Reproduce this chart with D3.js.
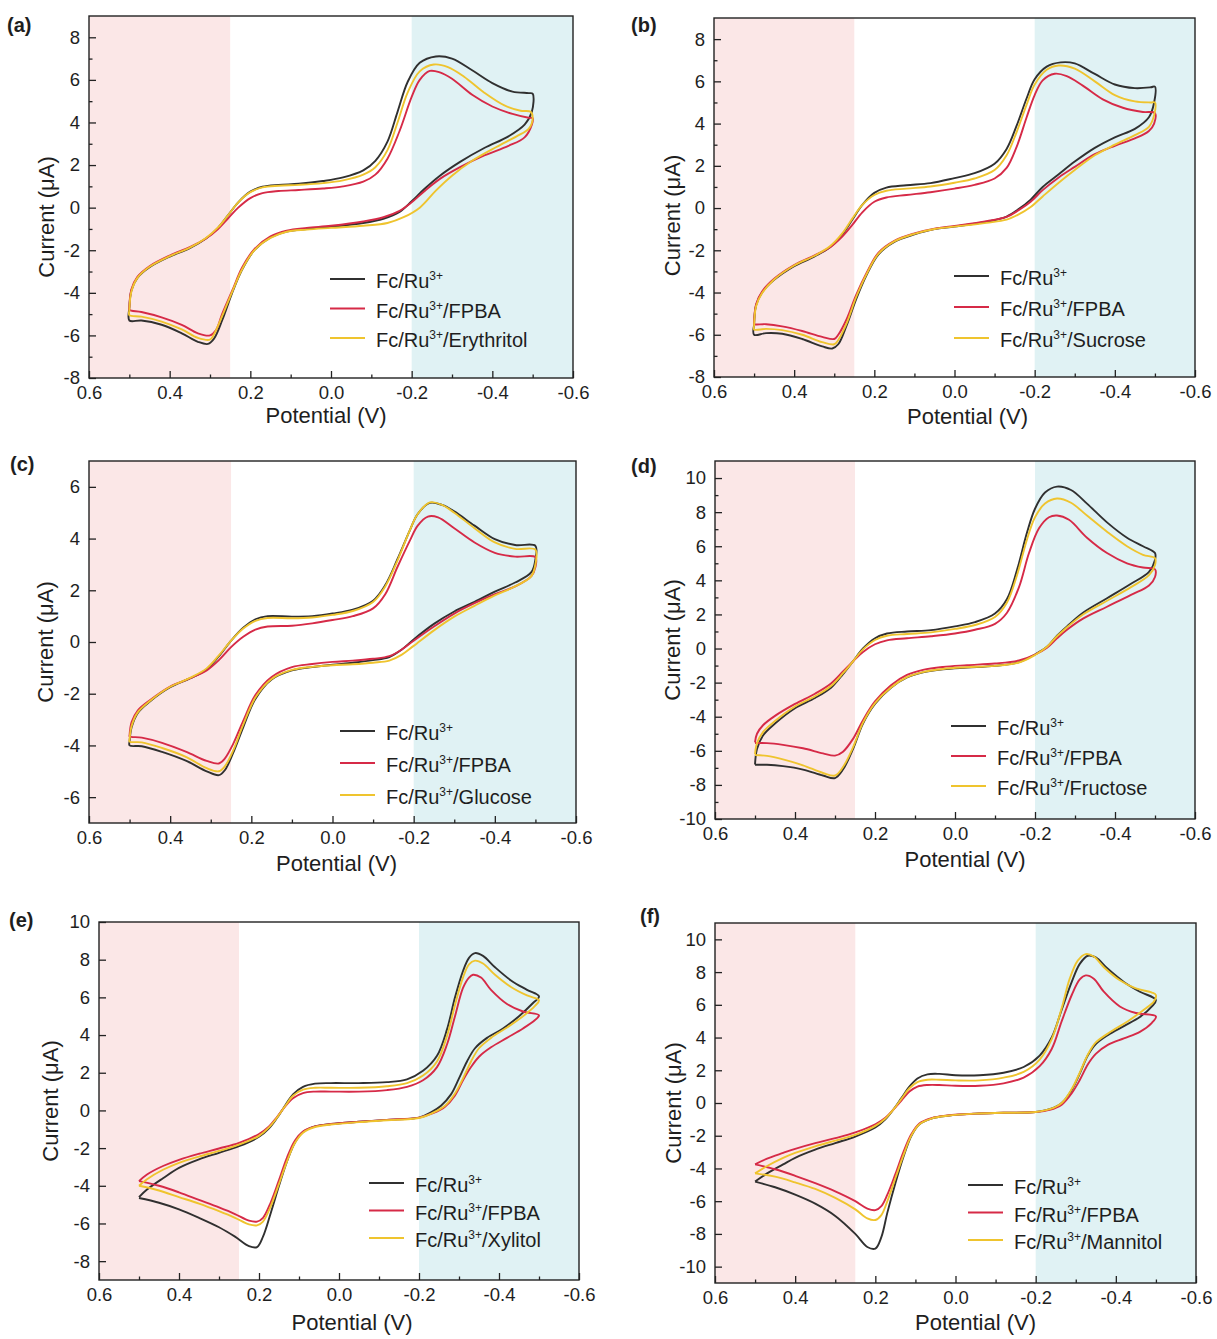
<!DOCTYPE html>
<html>
<head>
<meta charset="utf-8">
<script src="https://cdn.jsdelivr.net/npm/d3@7"></script>
<style>
  body { margin: 0; background: #fff; }
  text { font-family: "Liberation Sans", Arial, sans-serif; fill: #1e1e1e; }
</style>
</head>
<body>
<svg id="fig" width="1217" height="1339"></svg>
<script>
// ---- data: cyclic voltammograms [potential (V), current (uA)] ----
const potentialTicks = [0.6, 0.4, 0.2, 0.0, -0.2, -0.4, -0.6];
const seriesColors = ["#303030", "#d62a47", "#efc42e"];
const sugars = ["Erythritol", "Sucrose", "Glucose", "Fructose", "Xylitol", "Mannitol"];
const letters = ["(a)", "(b)", "(c)", "(d)", "(e)", "(f)"];
const pinkBand = [0.6, 0.25];
const cyanBand = [-0.2, -0.6];

const yTicksA = [-8, -6, -4, -2, 0, 2, 4, 6, 8];
const yTicksC = [-6, -4, -2, 0, 2, 4, 6];
const yTicksD = [-10, -8, -6, -4, -2, 0, 2, 4, 6, 8, 10];
const yTicksE = [-8, -6, -4, -2, 0, 2, 4, 6, 8, 10];

// (a) erythritol
const aBare = [[0.5,-4.75],[0.495,-3.9],[0.48,-3.3],[0.45,-2.8],[0.4,-2.3],[0.35,-1.9],[0.31,-1.45],[0.28,-0.95],[0.255,-0.35],[0.23,0.25],[0.2,0.75],[0.17,0.98],[0.13,1.07],[0.08,1.12],[0.02,1.25],[-0.03,1.42],[-0.08,1.75],[-0.11,2.2],[-0.14,3.1],[-0.165,4.5],[-0.19,5.9],[-0.22,6.8],[-0.26,7.1],[-0.3,7.0],[-0.35,6.45],[-0.4,5.85],[-0.45,5.45],[-0.49,5.38],[-0.5,5.35],
  [-0.498,4.5],[-0.48,3.9],[-0.44,3.35],[-0.38,2.8],[-0.32,2.15],[-0.27,1.5],[-0.23,0.85],[-0.2,0.3],[-0.17,-0.2],[-0.13,-0.52],[-0.08,-0.72],[0,-0.9],[0.06,-1.0],[0.11,-1.12],[0.15,-1.4],[0.19,-2.0],[0.22,-2.9],[0.245,-4.0],[0.27,-5.3],[0.29,-6.15],[0.305,-6.4],[0.33,-6.3],[0.37,-5.9],[0.42,-5.5],[0.47,-5.3],[0.5,-5.3],[0.5,-4.75]];
const aFpba = [[0.5,-4.7],[0.495,-3.85],[0.48,-3.25],[0.45,-2.75],[0.4,-2.25],[0.35,-1.85],[0.31,-1.45],[0.28,-1.0],[0.255,-0.5],[0.23,0.0],[0.2,0.45],[0.17,0.68],[0.13,0.78],[0.08,0.83],[0.02,0.9],[-0.03,1.0],[-0.08,1.22],[-0.11,1.55],[-0.14,2.3],[-0.17,3.6],[-0.2,5.2],[-0.22,6.0],[-0.245,6.42],[-0.27,6.35],[-0.3,6.05],[-0.35,5.3],[-0.4,4.75],[-0.45,4.4],[-0.49,4.22],[-0.5,4.2],
  [-0.498,3.9],[-0.48,3.3],[-0.44,2.9],[-0.38,2.45],[-0.32,1.9],[-0.27,1.35],[-0.23,0.75],[-0.2,0.25],[-0.17,-0.15],[-0.13,-0.45],[-0.08,-0.65],[0,-0.85],[0.06,-0.95],[0.11,-1.08],[0.15,-1.35],[0.19,-1.95],[0.22,-2.8],[0.245,-3.9],[0.27,-5.0],[0.285,-5.75],[0.3,-6.0],[0.33,-5.9],[0.37,-5.5],[0.42,-5.15],[0.47,-4.9],[0.5,-4.8],[0.5,-4.7]];
const aSugar = [[0.5,-4.85],[0.495,-3.95],[0.48,-3.3],[0.45,-2.78],[0.4,-2.28],[0.35,-1.88],[0.31,-1.43],[0.28,-0.93],[0.255,-0.35],[0.23,0.25],[0.2,0.73],[0.17,0.95],[0.13,1.03],[0.08,1.07],[0.02,1.15],[-0.03,1.28],[-0.08,1.55],[-0.11,1.9],[-0.14,2.7],[-0.165,4.0],[-0.19,5.4],[-0.22,6.4],[-0.255,6.72],[-0.29,6.6],[-0.33,6.15],[-0.38,5.4],[-0.43,4.8],[-0.47,4.55],[-0.495,4.5],
  [-0.5,4.2],[-0.49,3.7],[-0.46,3.35],[-0.41,2.85],[-0.35,2.2],[-0.3,1.5],[-0.26,0.8],[-0.22,0.0],[-0.18,-0.45],[-0.14,-0.72],[-0.08,-0.85],[0,-0.95],[0.06,-1.03],[0.11,-1.13],[0.15,-1.42],[0.19,-2.0],[0.22,-2.88],[0.245,-3.95],[0.27,-5.1],[0.29,-5.95],[0.3,-6.2],[0.33,-6.12],[0.37,-5.72],[0.42,-5.35],[0.47,-5.12],[0.5,-5.05],[0.5,-4.85]];

// (b) sucrose
const bBare = [[0.5,-5.55],[0.495,-4.6],[0.48,-4.0],[0.45,-3.4],[0.4,-2.75],[0.35,-2.3],[0.31,-1.85],[0.28,-1.25],[0.255,-0.55],[0.23,0.15],[0.2,0.72],[0.17,0.97],[0.12,1.08],[0.06,1.18],[0,1.42],[-0.05,1.65],[-0.1,2.1],[-0.13,2.8],[-0.155,3.9],[-0.18,5.2],[-0.2,6.1],[-0.23,6.7],[-0.265,6.9],[-0.3,6.85],[-0.35,6.35],[-0.4,5.85],[-0.45,5.68],[-0.49,5.72],[-0.5,5.75],
  [-0.498,5.0],[-0.485,4.3],[-0.45,3.75],[-0.4,3.35],[-0.35,2.85],[-0.3,2.2],[-0.26,1.6],[-0.22,1.0],[-0.19,0.4],[-0.16,-0.05],[-0.13,-0.4],[-0.08,-0.65],[0,-0.88],[0.05,-1.0],[0.1,-1.25],[0.15,-1.6],[0.19,-2.2],[0.22,-3.2],[0.245,-4.3],[0.27,-5.6],[0.29,-6.45],[0.305,-6.65],[0.33,-6.55],[0.38,-6.2],[0.43,-5.95],[0.47,-5.92],[0.5,-6.0],[0.5,-5.55]];
const bFpba = [[0.5,-5.45],[0.495,-4.55],[0.48,-3.95],[0.45,-3.35],[0.4,-2.7],[0.35,-2.25],[0.31,-1.85],[0.28,-1.35],[0.255,-0.8],[0.23,-0.2],[0.2,0.3],[0.17,0.5],[0.12,0.62],[0.06,0.75],[0,0.92],[-0.05,1.1],[-0.1,1.4],[-0.13,1.9],[-0.155,2.9],[-0.18,4.3],[-0.2,5.35],[-0.22,6.05],[-0.25,6.36],[-0.28,6.25],[-0.32,5.8],[-0.37,5.15],[-0.42,4.75],[-0.47,4.55],[-0.5,4.5],
  [-0.498,4.0],[-0.485,3.65],[-0.45,3.3],[-0.4,2.95],[-0.35,2.55],[-0.3,1.95],[-0.26,1.45],[-0.22,0.85],[-0.19,0.3],[-0.16,-0.1],[-0.13,-0.42],[-0.08,-0.62],[0,-0.85],[0.05,-0.98],[0.1,-1.2],[0.15,-1.55],[0.19,-2.12],[0.22,-3.1],[0.245,-4.1],[0.27,-5.3],[0.29,-6.0],[0.3,-6.2],[0.33,-6.1],[0.38,-5.82],[0.43,-5.6],[0.47,-5.5],[0.5,-5.5],[0.5,-5.45]];
const bSugar = [[0.5,-5.6],[0.495,-4.65],[0.48,-4.02],[0.45,-3.38],[0.4,-2.72],[0.35,-2.27],[0.31,-1.8],[0.28,-1.2],[0.255,-0.5],[0.23,0.15],[0.2,0.62],[0.17,0.82],[0.12,0.92],[0.06,1.02],[0,1.2],[-0.05,1.4],[-0.1,1.8],[-0.13,2.5],[-0.155,3.6],[-0.18,4.9],[-0.2,5.85],[-0.23,6.55],[-0.26,6.75],[-0.3,6.6],[-0.35,6.0],[-0.4,5.35],[-0.45,5.05],[-0.49,5.0],[-0.5,5.0],
  [-0.498,4.4],[-0.485,3.85],[-0.45,3.45],[-0.4,3.0],[-0.35,2.5],[-0.3,1.8],[-0.26,1.2],[-0.22,0.55],[-0.19,0.05],[-0.16,-0.3],[-0.13,-0.55],[-0.08,-0.7],[0,-0.88],[0.05,-0.99],[0.1,-1.22],[0.15,-1.58],[0.19,-2.17],[0.22,-3.15],[0.245,-4.2],[0.27,-5.5],[0.29,-6.25],[0.3,-6.45],[0.33,-6.35],[0.38,-6.0],[0.43,-5.78],[0.47,-5.72],[0.5,-5.75],[0.5,-5.6]];

// (c) glucose
const cBare = [[0.5,-3.85],[0.495,-3.3],[0.48,-2.75],[0.45,-2.3],[0.4,-1.75],[0.35,-1.4],[0.31,-1.05],[0.28,-0.55],[0.25,0.05],[0.22,0.55],[0.19,0.88],[0.16,1.0],[0.1,0.98],[0.05,1.0],[0,1.1],[-0.05,1.25],[-0.1,1.6],[-0.13,2.2],[-0.16,3.2],[-0.19,4.3],[-0.21,4.95],[-0.24,5.38],[-0.27,5.3],[-0.3,5.05],[-0.35,4.5],[-0.4,3.98],[-0.45,3.75],[-0.5,3.72],
  [-0.5,3.2],[-0.49,2.7],[-0.45,2.3],[-0.4,1.95],[-0.35,1.55],[-0.3,1.18],[-0.25,0.7],[-0.2,0.1],[-0.17,-0.3],[-0.14,-0.58],[-0.1,-0.7],[-0.05,-0.8],[0,-0.88],[0.05,-0.97],[0.1,-1.1],[0.15,-1.45],[0.19,-2.2],[0.22,-3.3],[0.245,-4.3],[0.265,-4.95],[0.28,-5.15],[0.31,-5.0],[0.36,-4.6],[0.42,-4.25],[0.47,-4.03],[0.5,-4.0],[0.5,-3.85]];
const cFpba = [[0.5,-3.6],[0.495,-3.1],[0.48,-2.65],[0.45,-2.25],[0.4,-1.72],[0.35,-1.4],[0.31,-1.1],[0.28,-0.7],[0.25,-0.2],[0.22,0.2],[0.19,0.48],[0.16,0.6],[0.1,0.63],[0.05,0.72],[0,0.85],[-0.05,1.0],[-0.1,1.3],[-0.13,1.85],[-0.16,2.9],[-0.19,3.9],[-0.21,4.5],[-0.235,4.85],[-0.26,4.82],[-0.3,4.4],[-0.35,3.85],[-0.4,3.45],[-0.45,3.3],[-0.5,3.28],
  [-0.5,2.9],[-0.49,2.55],[-0.45,2.15],[-0.4,1.85],[-0.35,1.5],[-0.3,1.1],[-0.25,0.6],[-0.2,0.05],[-0.17,-0.3],[-0.14,-0.55],[-0.1,-0.65],[-0.05,-0.72],[0,-0.77],[0.05,-0.85],[0.1,-0.97],[0.15,-1.35],[0.19,-2.05],[0.22,-3.05],[0.245,-3.95],[0.265,-4.5],[0.28,-4.7],[0.31,-4.6],[0.36,-4.25],[0.42,-3.9],[0.47,-3.7],[0.5,-3.65],[0.5,-3.6]];
const cSugar = [[0.5,-3.75],[0.495,-3.25],[0.48,-2.72],[0.45,-2.28],[0.4,-1.73],[0.35,-1.38],[0.31,-1.02],[0.28,-0.52],[0.25,0.05],[0.22,0.52],[0.19,0.82],[0.16,0.93],[0.1,0.92],[0.05,0.95],[0,1.05],[-0.05,1.2],[-0.1,1.55],[-0.13,2.15],[-0.16,3.15],[-0.19,4.3],[-0.21,4.95],[-0.24,5.4],[-0.27,5.3],[-0.3,5.0],[-0.35,4.4],[-0.4,3.85],[-0.45,3.6],[-0.5,3.57],
  [-0.5,3.0],[-0.49,2.55],[-0.45,2.15],[-0.4,1.8],[-0.35,1.4],[-0.3,0.98],[-0.25,0.45],[-0.2,-0.15],[-0.17,-0.5],[-0.14,-0.72],[-0.1,-0.8],[-0.05,-0.86],[0,-0.9],[0.05,-0.96],[0.1,-1.08],[0.15,-1.43],[0.19,-2.15],[0.22,-3.2],[0.245,-4.2],[0.265,-4.8],[0.28,-5.0],[0.31,-4.88],[0.36,-4.45],[0.42,-4.1],[0.47,-3.88],[0.5,-3.85],[0.5,-3.75]];

// (d) fructose
const dBare = [[0.5,-6.8],[0.495,-5.9],[0.48,-5.1],[0.45,-4.4],[0.4,-3.5],[0.35,-2.9],[0.31,-2.3],[0.28,-1.5],[0.255,-0.75],[0.23,0.0],[0.2,0.6],[0.17,0.88],[0.12,1.0],[0.06,1.08],[0,1.3],[-0.05,1.55],[-0.1,2.05],[-0.13,2.9],[-0.155,4.6],[-0.18,6.8],[-0.2,8.2],[-0.225,9.15],[-0.255,9.5],[-0.29,9.3],[-0.33,8.5],[-0.38,7.4],[-0.43,6.5],[-0.47,6.0],[-0.5,5.6],
  [-0.5,5.2],[-0.485,4.5],[-0.44,3.8],[-0.38,2.95],[-0.32,2.1],[-0.28,1.3],[-0.255,0.75],[-0.23,0.1],[-0.2,-0.35],[-0.16,-0.8],[-0.1,-1.02],[-0.03,-1.12],[0.03,-1.22],[0.08,-1.4],[0.12,-1.7],[0.16,-2.3],[0.2,-3.25],[0.23,-4.4],[0.255,-5.9],[0.28,-7.1],[0.3,-7.6],[0.33,-7.45],[0.38,-7.1],[0.43,-6.9],[0.47,-6.82],[0.5,-6.82]];
const dFpba = [[0.5,-5.5],[0.495,-5.0],[0.48,-4.5],[0.45,-3.95],[0.4,-3.25],[0.35,-2.65],[0.31,-2.05],[0.28,-1.35],[0.255,-0.75],[0.23,-0.2],[0.2,0.25],[0.17,0.48],[0.12,0.6],[0.06,0.72],[0,0.88],[-0.05,1.1],[-0.1,1.45],[-0.13,2.1],[-0.16,3.6],[-0.185,5.6],[-0.21,7.05],[-0.235,7.7],[-0.255,7.8],[-0.285,7.55],[-0.33,6.5],[-0.38,5.6],[-0.43,5.0],[-0.47,4.75],[-0.5,4.65],
  [-0.5,4.2],[-0.485,3.7],[-0.44,3.15],[-0.38,2.45],[-0.32,1.75],[-0.28,1.1],[-0.255,0.6],[-0.23,0.05],[-0.2,-0.35],[-0.16,-0.7],[-0.1,-0.88],[-0.03,-0.98],[0.03,-1.08],[0.08,-1.25],[0.12,-1.55],[0.16,-2.15],[0.2,-3.1],[0.23,-4.2],[0.255,-5.3],[0.28,-6.05],[0.3,-6.28],[0.33,-6.15],[0.38,-5.85],[0.43,-5.65],[0.47,-5.55],[0.5,-5.55]];
const dSugar = [[0.5,-6.2],[0.495,-5.55],[0.48,-4.9],[0.45,-4.25],[0.4,-3.4],[0.35,-2.8],[0.31,-2.2],[0.28,-1.45],[0.255,-0.75],[0.23,-0.05],[0.2,0.5],[0.17,0.75],[0.12,0.85],[0.06,0.95],[0,1.15],[-0.05,1.38],[-0.1,1.85],[-0.13,2.7],[-0.155,4.3],[-0.18,6.4],[-0.2,7.7],[-0.225,8.5],[-0.255,8.8],[-0.29,8.55],[-0.33,7.8],[-0.38,6.85],[-0.43,6.0],[-0.47,5.5],[-0.5,5.3],
  [-0.5,4.9],[-0.485,4.3],[-0.44,3.6],[-0.38,2.8],[-0.32,2.0],[-0.28,1.25],[-0.255,0.72],[-0.23,0.1],[-0.2,-0.38],[-0.16,-0.82],[-0.1,-1.02],[-0.03,-1.1],[0.03,-1.2],[0.08,-1.38],[0.12,-1.68],[0.16,-2.28],[0.2,-3.2],[0.23,-4.35],[0.255,-5.8],[0.28,-6.95],[0.3,-7.45],[0.33,-7.3],[0.38,-6.85],[0.43,-6.5],[0.47,-6.3],[0.5,-6.25]];

// (e) xylitol
const eBare = [[0.5,-4.6],[0.48,-4.2],[0.44,-3.6],[0.4,-3.05],[0.35,-2.6],[0.3,-2.25],[0.25,-1.9],[0.2,-1.4],[0.175,-0.95],[0.155,-0.4],[0.135,0.25],[0.115,0.85],[0.09,1.25],[0.06,1.42],[0.02,1.45],[-0.05,1.45],[-0.12,1.5],[-0.17,1.65],[-0.21,2.1],[-0.245,2.9],[-0.27,4.3],[-0.29,6.0],[-0.31,7.4],[-0.325,8.1],[-0.34,8.35],[-0.36,8.2],[-0.39,7.6],[-0.43,6.9],[-0.47,6.4],[-0.5,6.05],
  [-0.485,5.7],[-0.45,5.0],[-0.41,4.35],[-0.37,3.85],[-0.34,3.3],[-0.32,2.6],[-0.3,1.7],[-0.28,0.85],[-0.255,0.25],[-0.23,-0.1],[-0.2,-0.38],[-0.12,-0.5],[-0.05,-0.6],[0.02,-0.72],[0.06,-0.85],[0.09,-1.15],[0.11,-1.7],[0.13,-2.7],[0.15,-4.0],[0.17,-5.4],[0.19,-6.7],[0.205,-7.25],[0.225,-7.2],[0.26,-6.7],[0.3,-6.2],[0.35,-5.7],[0.4,-5.25],[0.45,-4.9],[0.5,-4.65]];
const eFpba = [[0.5,-3.75],[0.48,-3.4],[0.44,-2.95],[0.4,-2.62],[0.35,-2.3],[0.3,-2.02],[0.25,-1.72],[0.2,-1.25],[0.175,-0.85],[0.155,-0.35],[0.135,0.2],[0.115,0.65],[0.09,0.92],[0.06,1.0],[0.02,1.0],[-0.05,1.0],[-0.12,1.08],[-0.17,1.25],[-0.21,1.6],[-0.245,2.3],[-0.27,3.5],[-0.29,5.0],[-0.31,6.5],[-0.325,7.05],[-0.335,7.2],[-0.355,7.05],[-0.38,6.4],[-0.42,5.65],[-0.46,5.25],[-0.5,5.05],
  [-0.49,4.8],[-0.46,4.35],[-0.42,3.85],[-0.38,3.35],[-0.35,2.85],[-0.33,2.3],[-0.31,1.6],[-0.29,0.8],[-0.265,0.2],[-0.235,-0.15],[-0.2,-0.38],[-0.12,-0.5],[-0.05,-0.6],[0.02,-0.72],[0.06,-0.85],[0.09,-1.12],[0.11,-1.6],[0.13,-2.5],[0.15,-3.7],[0.17,-4.85],[0.19,-5.7],[0.205,-5.9],[0.225,-5.85],[0.26,-5.5],[0.3,-5.15],[0.35,-4.75],[0.4,-4.35],[0.45,-4.0],[0.5,-3.75]];
const eSugar = [[0.5,-4.0],[0.48,-3.65],[0.44,-3.15],[0.4,-2.78],[0.35,-2.45],[0.3,-2.15],[0.25,-1.82],[0.2,-1.35],[0.175,-0.9],[0.155,-0.38],[0.135,0.22],[0.115,0.78],[0.09,1.1],[0.06,1.2],[0.02,1.2],[-0.05,1.2],[-0.12,1.28],[-0.17,1.45],[-0.21,1.85],[-0.245,2.6],[-0.27,3.95],[-0.29,5.6],[-0.31,7.05],[-0.325,7.75],[-0.34,7.95],[-0.36,7.8],[-0.39,7.2],[-0.43,6.55],[-0.47,6.1],[-0.5,5.85],
  [-0.49,5.55],[-0.46,5.0],[-0.42,4.4],[-0.38,3.85],[-0.35,3.3],[-0.33,2.6],[-0.31,1.7],[-0.29,0.9],[-0.265,0.25],[-0.235,-0.12],[-0.2,-0.4],[-0.12,-0.52],[-0.05,-0.62],[0.02,-0.75],[0.06,-0.88],[0.09,-1.18],[0.11,-1.72],[0.13,-2.7],[0.15,-3.9],[0.17,-5.05],[0.19,-5.9],[0.205,-6.1],[0.225,-6.05],[0.26,-5.7],[0.3,-5.35],[0.35,-4.95],[0.4,-4.6],[0.45,-4.25],[0.5,-4.0]];

// (f) mannitol
const fBare = [[0.5,-4.8],[0.47,-4.3],[0.43,-3.75],[0.4,-3.35],[0.35,-2.85],[0.3,-2.45],[0.25,-2.05],[0.2,-1.5],[0.175,-1.0],[0.155,-0.4],[0.135,0.3],[0.115,1.0],[0.095,1.5],[0.07,1.75],[0.04,1.78],[0,1.7],[-0.06,1.7],[-0.12,1.85],[-0.17,2.2],[-0.21,2.9],[-0.24,4.0],[-0.265,5.7],[-0.29,7.4],[-0.31,8.5],[-0.33,9.0],[-0.35,8.9],[-0.38,8.2],[-0.42,7.4],[-0.46,6.8],[-0.5,6.3],
  [-0.49,5.9],[-0.46,5.25],[-0.42,4.7],[-0.38,4.15],[-0.35,3.6],[-0.33,2.9],[-0.31,1.8],[-0.29,0.8],[-0.265,0.0],[-0.235,-0.38],[-0.2,-0.55],[-0.12,-0.6],[-0.05,-0.65],[0.02,-0.78],[0.06,-0.95],[0.09,-1.3],[0.11,-2.0],[0.13,-3.3],[0.15,-4.9],[0.17,-6.7],[0.185,-8.2],[0.2,-8.9],[0.22,-8.8],[0.25,-8.0],[0.3,-6.9],[0.35,-6.15],[0.4,-5.6],[0.45,-5.15],[0.5,-4.8]];
const fFpba = [[0.5,-3.75],[0.47,-3.4],[0.43,-3.05],[0.4,-2.8],[0.35,-2.45],[0.3,-2.15],[0.25,-1.8],[0.2,-1.3],[0.175,-0.9],[0.155,-0.4],[0.135,0.15],[0.115,0.7],[0.095,1.0],[0.07,1.1],[0.04,1.1],[0,1.05],[-0.06,1.05],[-0.12,1.2],[-0.17,1.55],[-0.21,2.25],[-0.24,3.3],[-0.265,5.0],[-0.29,6.6],[-0.31,7.55],[-0.325,7.8],[-0.345,7.6],[-0.37,6.8],[-0.41,5.9],[-0.45,5.5],[-0.5,5.3],
  [-0.49,4.9],[-0.46,4.35],[-0.42,3.95],[-0.38,3.55],[-0.35,3.0],[-0.33,2.35],[-0.31,1.4],[-0.29,0.6],[-0.265,-0.1],[-0.235,-0.42],[-0.2,-0.55],[-0.12,-0.6],[-0.05,-0.65],[0.02,-0.76],[0.06,-0.92],[0.09,-1.25],[0.11,-1.9],[0.13,-3.0],[0.15,-4.35],[0.17,-5.6],[0.185,-6.3],[0.2,-6.55],[0.22,-6.45],[0.25,-6.0],[0.3,-5.4],[0.35,-4.9],[0.4,-4.45],[0.45,-4.05],[0.5,-3.75]];
const fSugar = [[0.5,-4.3],[0.47,-3.85],[0.43,-3.35],[0.4,-3.05],[0.35,-2.65],[0.3,-2.3],[0.25,-1.95],[0.2,-1.4],[0.175,-0.95],[0.155,-0.4],[0.135,0.25],[0.115,0.9],[0.095,1.28],[0.07,1.42],[0.04,1.42],[0,1.38],[-0.06,1.38],[-0.12,1.55],[-0.17,1.9],[-0.21,2.65],[-0.24,3.9],[-0.265,5.8],[-0.285,7.6],[-0.305,8.7],[-0.325,9.1],[-0.345,8.95],[-0.37,8.3],[-0.41,7.5],[-0.45,7.0],[-0.49,6.75],[-0.5,6.6],
  [-0.495,6.2],[-0.47,5.7],[-0.43,5.0],[-0.39,4.4],[-0.35,3.7],[-0.33,2.95],[-0.31,1.85],[-0.29,0.85],[-0.265,0.0],[-0.235,-0.38],[-0.2,-0.55],[-0.12,-0.6],[-0.05,-0.65],[0.02,-0.78],[0.06,-0.95],[0.09,-1.3],[0.11,-1.98],[0.13,-3.2],[0.15,-4.6],[0.17,-6.0],[0.185,-6.85],[0.2,-7.15],[0.22,-7.05],[0.25,-6.5],[0.3,-5.8],[0.35,-5.25],[0.4,-4.85],[0.45,-4.5],[0.5,-4.3]];

// ---- layout of the six panels (page pixels) ----
// xt/yt: shifts of the axis titles, tb: title baseline below the axis, yx: y-title distance from axis
const panels = [
  { curves: [aBare, aFpba, aSugar], yDomain: [-8, 9], yTicks: yTicksA, x0: 89, x1: 573, y0: 16, y1: 378,
    lx: 330, ly: 279, lgap: 29.5, letter: [7, 32], xt: -5, tb: 45, yt: 20, yx: 43 },
  { curves: [bBare, bFpba, bSugar], yDomain: [-8, 9], yTicks: yTicksA, x0: 714, x1: 1195, y0: 18, y1: 377,
    lx: 954, ly: 276, lgap: 31, letter: [631, 32], xt: 13, tb: 47, yt: 18, yx: 42 },
  { curves: [cBare, cFpba, cSugar], yDomain: [-7, 7], yTicks: yTicksC, x0: 89, x1: 576, y0: 461, y1: 823,
    lx: 340, ly: 731, lgap: 32, letter: [10, 471], xt: 4, tb: 48, yt: 0, yx: 44 },
  { curves: [dBare, dFpba, dSugar], yDomain: [-10, 11], yTicks: yTicksD, x0: 715, x1: 1195, y0: 461, y1: 819,
    lx: 951, ly: 726, lgap: 30, letter: [631, 473], xt: 10, tb: 48, yt: 0, yx: 43 },
  { curves: [eBare, eFpba, eSugar], yDomain: [-9, 10], yTicks: yTicksE, x0: 99, x1: 579, y0: 922, y1: 1280,
    lx: 369, ly: 1183, lgap: 27.5, letter: [9, 927], xt: 13, tb: 50, yt: 0, yx: 49 },
  { curves: [fBare, fFpba, fSugar], yDomain: [-11, 11], yTicks: yTicksD, x0: 715, x1: 1196, y0: 923, y1: 1283,
    lx: 968, ly: 1185, lgap: 27.5, letter: [640, 923], xt: 20, tb: 47, yt: 0, yx: 42 }
];

const svg = d3.select("#fig");

panels.forEach((p, i) => {
  const x = d3.scaleLinear().domain([0.6, -0.6]).range([p.x0, p.x1]);
  const y = d3.scaleLinear().domain(p.yDomain).range([p.y1, p.y0]);
  const g = svg.append("g");

  // shaded potential windows
  g.append("rect").attr("x", x(pinkBand[0])).attr("y", p.y0)
    .attr("width", x(pinkBand[1]) - x(pinkBand[0])).attr("height", p.y1 - p.y0)
    .attr("fill", "#fbe7e7");
  g.append("rect").attr("x", x(cyanBand[0])).attr("y", p.y0)
    .attr("width", x(cyanBand[1]) - x(cyanBand[0])).attr("height", p.y1 - p.y0)
    .attr("fill", "#e0f2f4");

  // curves
  const line = d3.line().x(d => x(d[0])).y(d => y(d[1])).curve(d3.curveCatmullRom.alpha(0.5));
  p.curves.forEach((c, k) => {
    g.append("path").datum(c).attr("d", line)
      .attr("fill", "none").attr("stroke", seriesColors[k])
      .attr("stroke-width", 1.9).attr("stroke-linejoin", "round");
  });

  // axes: inward ticks, major + minor
  const xMinor = d3.range(-5, 6, 2).map(v => v / 10);
  const yMinor = d3.range(p.yDomain[0] + 1, p.yDomain[1], 2).filter(v => !p.yTicks.includes(v));

  g.append("g").attr("transform", `translate(0,${p.y1})`)
    .call(d3.axisBottom(x).tickValues(potentialTicks).tickSize(-7).tickPadding(8).tickFormat(d => d.toFixed(1)));
  g.append("g").attr("transform", `translate(0,${p.y1})`)
    .call(d3.axisBottom(x).tickValues(xMinor).tickSize(-3.5).tickFormat(""));
  g.append("g").attr("transform", `translate(${p.x0},0)`)
    .call(d3.axisLeft(y).tickValues(p.yTicks).tickSize(-7).tickPadding(9).tickFormat(d => String(d)));
  g.append("g").attr("transform", `translate(${p.x0},0)`)
    .call(d3.axisLeft(y).tickValues(yMinor).tickSize(-3.5).tickFormat(""));

  g.selectAll(".domain").remove();
  g.selectAll(".tick line").attr("stroke", "#222").attr("stroke-width", 1.3);
  g.selectAll(".tick text").attr("font-size", 18.5).attr("font-family", null).attr("fill", "#1e1e1e");

  // frame
  g.append("rect").attr("x", p.x0).attr("y", p.y0)
    .attr("width", p.x1 - p.x0).attr("height", p.y1 - p.y0)
    .attr("fill", "none").attr("stroke", "#222").attr("stroke-width", 1.4);

  // titles
  g.append("text").attr("x", (p.x0 + p.x1) / 2 + p.xt).attr("y", p.y1 + p.tb)
    .attr("text-anchor", "middle").attr("font-size", 22).text("Potential (V)");
  g.append("text")
    .attr("transform", `translate(${p.x0 - p.yx},${(p.y0 + p.y1) / 2 + p.yt}) rotate(-90)`)
    .attr("text-anchor", "middle").attr("dy", "0.35em").attr("font-size", 22).text("Current (\u03bcA)");
  g.append("text").attr("x", p.letter[0]).attr("y", p.letter[1])
    .attr("font-size", 20).attr("font-weight", "bold").text(letters[i]);

  // legend
  const suffixes = ["", "/FPBA", "/" + sugars[i]];
  suffixes.forEach((s, k) => {
    const ry = p.ly + k * p.lgap;
    g.append("line").attr("x1", p.lx).attr("x2", p.lx + 35).attr("y1", ry).attr("y2", ry)
      .attr("stroke", seriesColors[k]).attr("stroke-width", 2.2);
    const t = g.append("text").attr("x", p.lx + 46).attr("y", ry + 9).attr("font-size", 20);
    t.append("tspan").text("Fc/Ru");
    t.append("tspan").attr("font-size", 12).attr("dy", -8).text("3+");
    if (s) t.append("tspan").attr("dy", 8).text(s);
  });
});
</script>
</body>
</html>
